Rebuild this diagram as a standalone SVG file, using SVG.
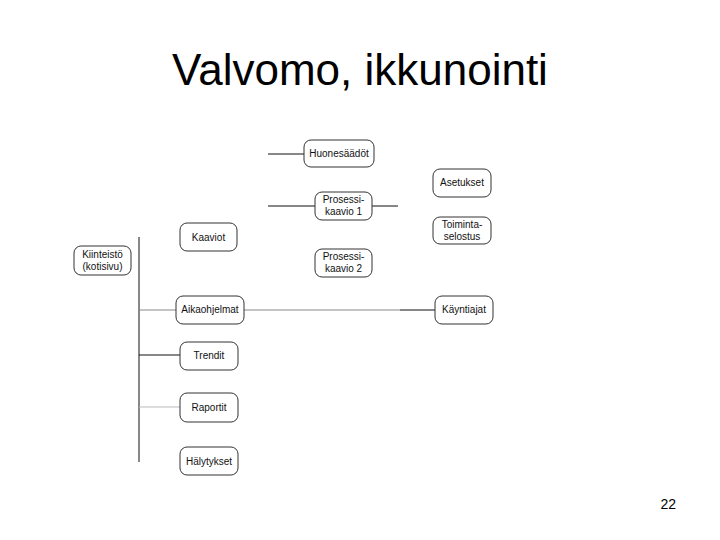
<svg xmlns="http://www.w3.org/2000/svg" width="720" height="540" viewBox="0 0 720 540">
<style>
.n rect{fill:#fff;stroke:#333;stroke-width:1}
.n text{font-family:"Liberation Sans",Arial,sans-serif;font-size:10px;fill:#111;text-anchor:middle}
.c line{stroke:#111;stroke-width:1}
.c line.g{stroke:#888}
.c line.lg{stroke:#bbb}
</style>
<rect width="720" height="540" fill="#fff"/>
<text x="360" y="85" font-family="Liberation Sans,Arial,sans-serif" font-size="44" text-anchor="middle" fill="#000">Valvomo, ikkunointi</text>
<text x="676" y="509" font-family="Liberation Sans,Arial,sans-serif" font-size="14" text-anchor="end" fill="#000">22</text>
<g class="c">
<line x1="139" y1="237" x2="139" y2="462"/>
<line x1="268" y1="154" x2="304" y2="154"/>
<line x1="268" y1="206" x2="315" y2="206"/>
<line x1="372" y1="206" x2="398" y2="206"/>
<line class="g" x1="139" y1="310" x2="176" y2="310"/>
<line class="g" x1="244" y1="310" x2="400" y2="310"/>
<line x1="400" y1="310" x2="435" y2="310"/>
<line x1="139" y1="355" x2="180" y2="355"/>
<line class="lg" x1="139" y1="407" x2="180" y2="407"/>
</g>
<g id="kiinteisto" class="n"><rect x="74" y="246" width="57" height="29" rx="7"/><text x="102.5" y="258">Kiinteistö</text><text x="102.5" y="270">(kotisivu)</text></g>
<g id="kaaviot" class="n"><rect x="180" y="223" width="57" height="28" rx="7"/><text x="208.5" y="241">Kaaviot</text></g>
<g id="huonesaadot" class="n"><rect x="304" y="140" width="70" height="27" rx="7"/><text x="339" y="157">Huonesäädöt</text></g>
<g id="prosessikaavio1" class="n"><rect x="315" y="192" width="57" height="28" rx="7"/><text x="343.5" y="203">Prosessi-</text><text x="343.5" y="215">kaavio 1</text></g>
<g id="prosessikaavio2" class="n"><rect x="315" y="249" width="57" height="28" rx="7"/><text x="343.5" y="260">Prosessi-</text><text x="343.5" y="272">kaavio 2</text></g>
<g id="asetukset" class="n"><rect x="433" y="169" width="58" height="28" rx="7"/><text x="462" y="186">Asetukset</text></g>
<g id="toimintaselostus" class="n"><rect x="433" y="217" width="58" height="27" rx="7"/><text x="462" y="228">Toiminta-</text><text x="462" y="240">selostus</text></g>
<g id="aikaohjelmat" class="n"><rect x="176" y="296" width="68" height="28" rx="7"/><text x="210" y="313">Aikaohjelmat</text></g>
<g id="kayntiajat" class="n"><rect x="435" y="296" width="58" height="28" rx="7"/><text x="464" y="313">Käyntiajat</text></g>
<g id="trendit" class="n"><rect x="180" y="342" width="58" height="28" rx="7"/><text x="209" y="359">Trendit</text></g>
<g id="raportit" class="n"><rect x="180" y="393" width="58" height="29" rx="7"/><text x="209" y="411">Raportit</text></g>
<g id="halytykset" class="n"><rect x="180" y="447" width="58" height="28" rx="7"/><text x="209" y="465">Hälytykset</text></g>
</svg>
